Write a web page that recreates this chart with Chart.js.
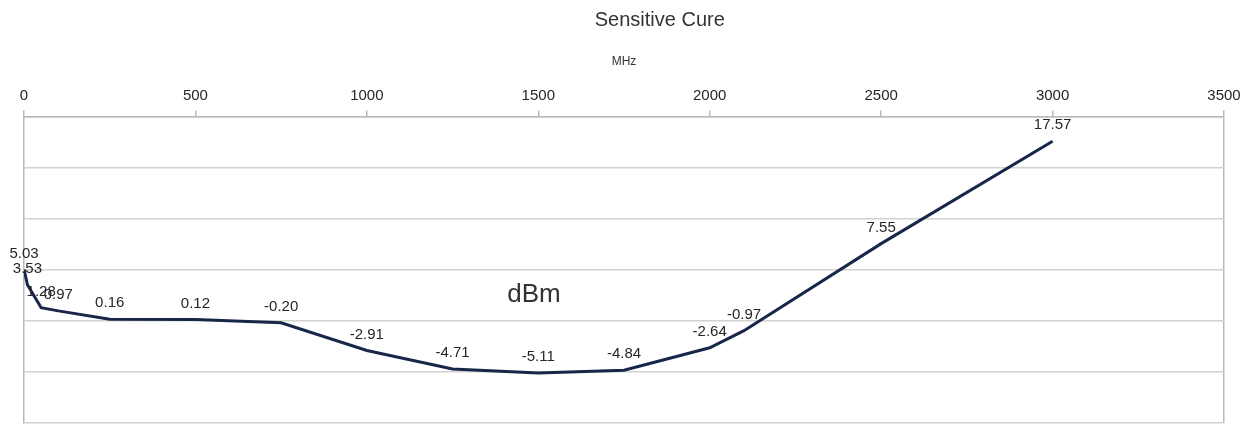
<!DOCTYPE html>
<html>
<head>
<meta charset="utf-8">
<script src="https://cdn.jsdelivr.net/npm/chart.js@4"></script>
<style>
  html, body { margin: 0; padding: 0; background: #ffffff; }
  #wrap { width: 1252px; height: 425px; position: relative; }
</style>
</head>
<body>
<div id="wrap"><canvas id="c" width="1252" height="425"></canvas></div>
<script>
// ---- data ----
const chartTitle = "Sensitive Cure";
const xAxisTitle = "MHz";
const yAxisTitle = "dBm";
const freqMHz  = [0, 10, 50, 100, 250, 500, 750, 1000, 1250, 1500, 1750, 2000, 2100, 2500, 3000];
const levelDbm = [5.03, 3.53, 1.28, 0.97, 0.16, 0.12, -0.20, -2.91, -4.71, -5.11, -4.84, -2.64, -0.97, 7.55, 17.57];
const xTickValues = [0, 500, 1000, 1500, 2000, 2500, 3000, 3500];
const yRange = [-10, 20];

const points = freqMHz.map((f, i) => ({ x: f, y: levelDbm[i] }));
const FONT = "'Liberation Sans', Arial, sans-serif";

const labelPlugin = {
  id: 'labels',
  afterDatasetsDraw(chart) {
    const ctx = chart.ctx;
    const meta = chart.getDatasetMeta(0);
    ctx.save();
    ctx.font = "15px " + FONT;
    ctx.fillStyle = "#262626";
    ctx.textAlign = "center";
    ctx.textBaseline = "middle";
    meta.data.forEach((el, i) => {
      ctx.fillText(levelDbm[i].toFixed(2), el.x, el.y - 16);
    });
    ctx.restore();
  },
  afterDraw(chart) {
    const ctx = chart.ctx;
    const a = chart.chartArea;
    ctx.save();
    ctx.fillStyle = "#333333";
    ctx.textAlign = "center";
    ctx.textBaseline = "middle";
    ctx.font = "20px " + FONT;
    ctx.fillText(chartTitle, chart.width * 0.527, 20);
    ctx.font = "26px " + FONT;
    ctx.fillText(yAxisTitle, a.left + (a.right - a.left) * 0.425, a.top + (a.bottom - a.top) * 0.582);
    ctx.restore();
  }
};

new Chart(document.getElementById('c'), {
  type: 'line',
  data: {
    datasets: [{
      data: points,
      borderColor: '#18264a',
      borderWidth: 3,
      pointRadius: 0,
      tension: 0,
      fill: false
    }]
  },
  options: {
    responsive: false,
    animation: false,
    layout: { padding: { top: 54, left: 24, right: 28, bottom: 2 } },
    plugins: { legend: { display: false }, tooltip: { enabled: false } },
    scales: {
      x: {
        type: 'linear',
        position: 'top',
        min: xTickValues[0],
        max: xTickValues[xTickValues.length - 1],
        afterBuildTicks(scale) { scale.ticks = xTickValues.map(v => ({ value: v })); },
        ticks: {
          font: { family: FONT, size: 15 },
          color: '#262626',
          padding: 6,
          maxRotation: 0,
          callback: v => String(v)
        },
        grid: {
          drawOnChartArea: true,
          color: ctx => (ctx.tick && ctx.tick.value === 3500) ? '#b8b8b8' : 'rgba(0,0,0,0)',
          lineWidth: 1.5,
          tickColor: '#b8b8b8',
          tickLength: 6
        },
        border: { display: true, color: '#b8b8b8', width: 1.5 },
        title: {
          display: true,
          text: xAxisTitle,
          font: { family: FONT, size: 12 },
          color: '#333333',
          padding: { top: 0, bottom: 12 }
        }
      },
      y: {
        type: 'linear',
        min: yRange[0],
        max: yRange[1],
        ticks: { display: false, stepSize: 5 },
        grid: { color: '#d2d2d2', lineWidth: 1.5, drawTicks: false },
        border: { display: true, color: '#b8b8b8', width: 1.5 }
      }
    }
  },
  plugins: [labelPlugin]
});
</script>
</body>
</html>
